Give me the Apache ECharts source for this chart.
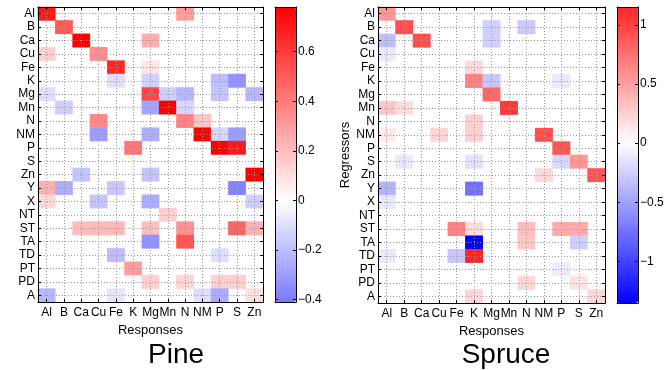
<!DOCTYPE html>
<html>
<head>
<meta charset="utf-8">
<script src="https://cdn.jsdelivr.net/npm/echarts@6/dist/echarts.min.js"></script>
<style>
  html, body { margin: 0; padding: 0; background: #fff; }
  #chart { width: 671px; height: 370px; }
</style>
</head>
<body>
<div id="chart"></div>
<script>
// categories
var responses = ['Al', 'B', 'Ca', 'Cu', 'Fe', 'K', 'Mg', 'Mn', 'N', 'NM', 'P', 'S', 'Zn'];
var regressors = ['Al', 'B', 'Ca', 'Cu', 'Fe', 'K', 'Mg', 'Mn', 'N', 'NM', 'P', 'S', 'Zn',
                  'Y', 'X', 'NT', 'ST', 'TA', 'TD', 'PT', 'PD', 'A'];

// non-zero cells: [response, regressor, value]
var pineCells = [
    ['Al', 'Al', 0.70], ['N', 'Al', 0.30],
    ['B', 'B', 0.50],
    ['Ca', 'Ca', 0.78], ['Mg', 'Ca', 0.25],
    ['Al', 'Cu', 0.15], ['Cu', 'Cu', 0.35],
    ['Fe', 'Fe', 0.66], ['Mg', 'Fe', 0.08],
    ['Fe', 'K', -0.10], ['Mg', 'K', -0.14], ['P', 'K', -0.20], ['S', 'K', -0.33],
    ['Al', 'Mg', -0.10], ['Mg', 'Mg', 0.57], ['Mn', 'Mg', -0.15], ['N', 'Mg', -0.22], ['P', 'Mg', -0.18], ['Zn', 'Mg', -0.22],
    ['B', 'Mn', -0.15], ['Mg', 'Mn', -0.28], ['Mn', 'Mn', 0.78], ['N', 'Mn', -0.12],
    ['Cu', 'N', 0.36], ['N', 'N', 0.38], ['NM', 'N', 0.18],
    ['Cu', 'NM', -0.30], ['Mg', 'NM', -0.25], ['NM', 'NM', 0.78], ['P', 'NM', -0.12], ['S', 'NM', -0.30],
    ['K', 'P', 0.42], ['P', 'P', 0.78], ['S', 'P', 0.70],
    ['Ca', 'Zn', -0.18], ['Mg', 'Zn', -0.18], ['Zn', 'Zn', 0.78],
    ['Al', 'Y', 0.25], ['B', 'Y', -0.25], ['Fe', 'Y', -0.17], ['S', 'Y', -0.38],
    ['Al', 'X', 0.12], ['Cu', 'X', -0.18], ['Mg', 'X', -0.25], ['Zn', 'X', -0.15],
    ['Mn', 'NT', 0.15],
    ['Ca', 'ST', 0.20], ['Cu', 'ST', 0.22], ['Fe', 'ST', 0.22], ['Mg', 'ST', 0.20], ['N', 'ST', 0.33], ['S', 'ST', 0.48], ['Zn', 'ST', 0.24],
    ['Mg', 'TA', -0.33], ['N', 'TA', 0.52],
    ['Fe', 'TD', -0.20], ['P', 'TD', -0.10],
    ['K', 'PT', 0.30],
    ['Mg', 'PD', 0.15], ['N', 'PD', 0.13], ['P', 'PD', 0.15], ['S', 'PD', 0.15],
    ['Al', 'A', -0.22], ['Fe', 'A', -0.08], ['NM', 'A', -0.10], ['P', 'A', -0.26], ['Zn', 'A', 0.10]
];

var spruceCells = [
    ['Al', 'Al', 0.55],
    ['B', 'B', 0.93], ['Mg', 'B', -0.25], ['N', 'B', -0.28],
    ['Al', 'Ca', -0.35], ['Ca', 'Ca', 0.93], ['Mg', 'Ca', -0.25],
    ['Al', 'Cu', -0.12],
    ['K', 'Fe', 0.20],
    ['K', 'K', 0.66], ['Mg', 'K', -0.30], ['P', 'K', -0.12],
    ['Mg', 'Mg', 0.80],
    ['Al', 'Mn', 0.30], ['B', 'Mn', 0.18], ['Mn', 'Mn', 1.04],
    ['K', 'N', 0.25],
    ['Al', 'NM', 0.12], ['Cu', 'NM', 0.22], ['K', 'NM', 0.25], ['NM', 'NM', 0.93],
    ['P', 'P', 0.90],
    ['B', 'S', -0.12], ['K', 'S', -0.15], ['P', 'S', -0.20], ['S', 'S', 0.55],
    ['NM', 'Zn', 0.20], ['Zn', 'Zn', 0.90],
    ['Al', 'Y', -0.40], ['K', 'Y', -0.75],
    ['Al', 'X', -0.12],
    ['Fe', 'ST', 0.66], ['K', 'ST', 0.18], ['N', 'ST', 0.35], ['P', 'ST', 0.45], ['S', 'ST', 0.45],
    ['K', 'TA', -1.35], ['N', 'TA', 0.30], ['S', 'TA', -0.25],
    ['Al', 'TD', -0.12], ['Fe', 'TD', -0.30], ['K', 'TD', 1.15],
    ['P', 'PT', -0.10],
    ['N', 'PD', 0.22], ['S', 'PD', 0.15],
    ['K', 'A', 0.22], ['Zn', 'A', 0.22]
];

// colorbar ranges and ticks
var pineRange = [-0.41, 0.78];
var spruceRange = [-1.35, 1.15];
var pineTicks = [-0.4, -0.2, 0, 0.2, 0.4, 0.6];
var spruceTicks = [-1, -0.5, 0, 0.5, 1];

var FONT = '"Liberation Sans", Arial, sans-serif';

function toIndex(cells) {
    return cells.map(function (c) {
        return [responses.indexOf(c[0]), regressors.indexOf(c[1]), c[2]];
    });
}

// blue-white-red, white at zero, saturated at +/- m
function bwr(v, m) {
    var t = Math.min(Math.abs(v) / m, 1);
    var k = Math.round(255 * (1 - t));
    return v >= 0 ? 'rgb(255,' + k + ',' + k + ')' : 'rgb(' + k + ',' + k + ',255)';
}
function stops(range) {
    var m = Math.max(-range[0], range[1]);
    var out = [];
    for (var i = 0; i <= 80; i++) {
        out.push(bwr(range[0] + (range[1] - range[0]) * i / 80, m));
    }
    return out;
}

function minus(v) { return String(v).replace('-', '\u2212'); }

var chart = echarts.init(document.getElementById('chart'));

var grids = [
    { left: 38, top: 7, width: 225, height: 295 },
    { left: 275, top: 7, width: 21, height: 295 },
    { left: 378, top: 7, width: 227, height: 296 },
    { left: 617, top: 7, width: 21, height: 296 }
];

function catX(gridIndex, pos, withLabels) {
    return {
        type: 'category', gridIndex: gridIndex, data: responses, position: pos,
        boundaryGap: true, z: 10,
        name: withLabels ? 'Responses' : '', nameLocation: 'middle', nameGap: 18,
        nameTextStyle: { fontFamily: FONT, fontSize: 13, color: '#000' },
        axisLine: { show: true, onZero: false, lineStyle: { color: '#000', width: 1 } },
        axisTick: { show: true, inside: true, alignWithLabel: true, length: 3, lineStyle: { color: '#000' } },
        axisLabel: { show: withLabels, interval: 0, margin: 5, fontFamily: FONT, fontSize: 12, color: '#000' },
        splitLine: { show: withLabels, alignWithLabel: true, lineStyle: { color: '#999', type: [1, 2], width: 1 } }
    };
}
function catY(gridIndex, pos, withLabels, name) {
    return {
        type: 'category', gridIndex: gridIndex, data: regressors, position: pos,
        inverse: true, boundaryGap: true, z: 10,
        name: name || '', nameLocation: 'middle', nameGap: 26,
        nameTextStyle: { fontFamily: FONT, fontSize: 13, color: '#000' },
        axisLine: { show: true, onZero: false, lineStyle: { color: '#000', width: 1 } },
        axisTick: { show: true, inside: true, alignWithLabel: true, length: 3, lineStyle: { color: '#000' } },
        axisLabel: { show: withLabels, interval: 0, margin: 3, fontFamily: FONT, fontSize: 12, color: '#000' },
        splitLine: { show: withLabels, alignWithLabel: true, lineStyle: { color: '#999', type: [1, 2], width: 1 } }
    };
}
function barX(gridIndex, pos) {
    return {
        type: 'value', gridIndex: gridIndex, position: pos, min: 0, max: 1, z: 10,
        axisLine: { show: true, onZero: false, lineStyle: { color: '#000', width: 1 } },
        axisTick: { show: false }, axisLabel: { show: false }, splitLine: { show: false }
    };
}
function barY(gridIndex, pos, range, ticks, withLabels) {
    return {
        type: 'value', gridIndex: gridIndex, position: pos, min: range[0], max: range[1], z: 10,
        axisLine: { show: true, onZero: false, lineStyle: { color: '#000', width: 1 } },
        axisTick: { show: true, inside: true, length: 3, customValues: ticks, lineStyle: { color: '#000' } },
        axisLabel: { show: withLabels, customValues: ticks, margin: 2, formatter: minus,
                     fontFamily: FONT, fontSize: 12, color: '#000' },
        splitLine: { show: false }
    };
}

chart.setOption({
    animation: false,
    backgroundColor: '#fff',
    title: [
        { text: 'Pine', left: 171, top: 336, textAlign: 'center',
          textStyle: { fontFamily: FONT, fontSize: 28, fontWeight: 'normal', color: '#000' } },
        { text: 'Spruce', left: 501, top: 336, textAlign: 'center',
          textStyle: { fontFamily: FONT, fontSize: 28, fontWeight: 'normal', color: '#000' } }
    ],
    grid: grids,
    xAxis: [
        catX(0, 'bottom', true), catX(0, 'top', false),
        barX(1, 'bottom'), barX(1, 'top'),
        catX(2, 'bottom', true), catX(2, 'top', false),
        barX(3, 'bottom'), barX(3, 'top')
    ],
    yAxis: [
        catY(0, 'left', true), catY(0, 'right', false),
        barY(1, 'left', pineRange, pineTicks, false), barY(1, 'right', pineRange, pineTicks, true),
        catY(2, 'left', true, 'Regressors'), catY(2, 'right', false),
        barY(3, 'left', spruceRange, spruceTicks, false), barY(3, 'right', spruceRange, spruceTicks, true)
    ],
    visualMap: [
        { type: 'continuous', seriesIndex: 0, min: pineRange[0], max: pineRange[1],
          left: 275, top: 7, itemWidth: 21, itemHeight: 295, padding: 0,
          calculable: false, hoverLink: false, text: null, showLabel: false,
          inRange: { color: stops(pineRange) } },
        { type: 'continuous', seriesIndex: 1, min: spruceRange[0], max: spruceRange[1],
          left: 617, top: 7, itemWidth: 21, itemHeight: 296, padding: 0,
          calculable: false, hoverLink: false, text: null, showLabel: false,
          inRange: { color: stops(spruceRange) } }
    ],
    series: [
        { type: 'heatmap', xAxisIndex: 0, yAxisIndex: 0, data: toIndex(pineCells), z: 1 },
        { type: 'heatmap', xAxisIndex: 4, yAxisIndex: 4, data: toIndex(spruceCells), z: 1 }
    ]
});
</script>
</body>
</html>
